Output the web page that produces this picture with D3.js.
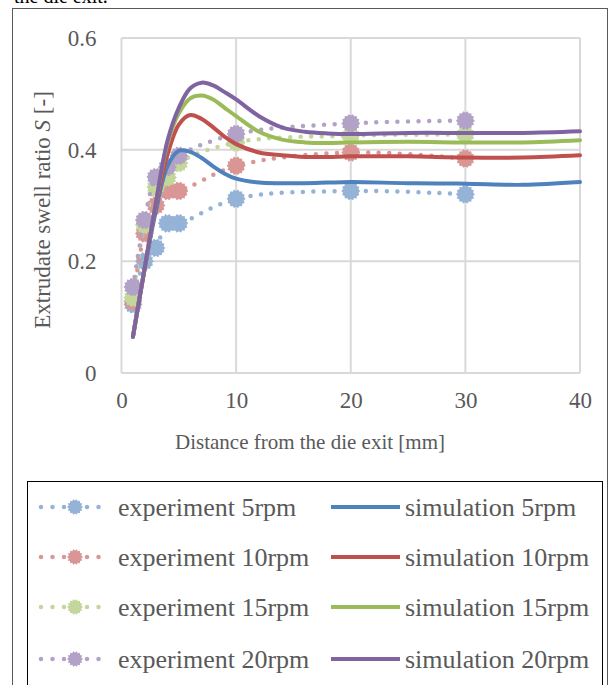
<!DOCTYPE html>
<html>
<head>
<meta charset="utf-8">
<script src="https://cdn.jsdelivr.net/npm/d3@7"></script>
<style>
  body { margin: 0; background: #fff; }
  svg text { font-family: "Liberation Serif", "DejaVu Serif", serif; fill: #595959; }
</style>
</head>
<body>
<div id="chart"></div>
<script>
// experiment x positions (mm)
var expX = [1, 2, 3, 4, 5, 10, 20, 30];
var exp5 = [0.123, 0.200, 0.224, 0.268, 0.268, 0.312, 0.326, 0.320];
var exp10 = [0.128, 0.250, 0.300, 0.326, 0.326, 0.371, 0.395, 0.384];
var exp15 = [0.135, 0.265, 0.333, 0.350, 0.376, 0.413, 0.425, 0.427];
var exp20 = [0.154, 0.274, 0.351, 0.369, 0.389, 0.428, 0.447, 0.452];

// simulation x positions (mm)
var simX = [1, 2, 3, 4, 5, 6, 7, 8, 9, 10, 12, 14, 16, 18, 20, 25, 30, 35, 40];
var sim5 = [0.065, 0.185, 0.29, 0.37, 0.398, 0.396, 0.385, 0.37, 0.357, 0.348, 0.341, 0.340, 0.340, 0.341, 0.342, 0.340, 0.339, 0.337, 0.342];
var sim10 = [0.065, 0.185, 0.30, 0.39, 0.445, 0.462, 0.455, 0.44, 0.423, 0.41, 0.395, 0.390, 0.387, 0.387, 0.388, 0.388, 0.386, 0.386, 0.390];
var sim15 = [0.065, 0.185, 0.305, 0.41, 0.465, 0.492, 0.497, 0.49, 0.475, 0.46, 0.432, 0.418, 0.413, 0.412, 0.413, 0.414, 0.413, 0.413, 0.417];
var sim20 = [0.065, 0.185, 0.305, 0.415, 0.475, 0.51, 0.52, 0.515, 0.503, 0.49, 0.46, 0.44, 0.432, 0.429, 0.428, 0.430, 0.430, 0.430, 0.433];

var xTicks = [0, 10, 20, 30, 40];
var yTicks = [0, 0.2, 0.4, 0.6];

var expLabels = ["experiment 5rpm", "experiment 10rpm", "experiment 15rpm", "experiment 20rpm"];
var simLabels = ["simulation 5rpm", "simulation 10rpm", "simulation 15rpm", "simulation 20rpm"];
var expColors = ["#95b3d7", "#d99694", "#c3d69b", "#b3a2c7"];
var simColors = ["#4f81bd", "#c0504d", "#9bbb59", "#8064a2"];

var W = 614, H = 685;
var plot = { left: 121.5, right: 580, top: 38, bottom: 373 };

var svg = d3.select("#chart").append("svg")
    .attr("width", W)
    .attr("height", H);

svg.append("rect").attr("width", W).attr("height", H).attr("fill", "#fff");

// leftover caption text from the page above (cropped in the source too)
svg.append("text")
    .attr("x", 14).attr("y", 3)
    .style("font-size", "20px")
    .style("fill", "#000")
    .text("the die exit.");

// outer frame
svg.append("rect")
    .attr("x", 12.5).attr("y", 8.5)
    .attr("width", 595).attr("height", 700)
    .attr("fill", "none")
    .attr("stroke", "#595959");

var x = d3.scaleLinear().domain([0, 40]).range([plot.left, plot.right]);
var y = d3.scaleLinear().domain([0, 0.6]).range([plot.bottom, plot.top]);

// gridlines
svg.append("g").selectAll("line")
    .data(yTicks)
    .enter().append("line")
    .attr("x1", plot.left).attr("x2", plot.right)
    .attr("y1", d => y(d)).attr("y2", d => y(d))
    .attr("stroke", "#d9d9d9").attr("stroke-width", 2);

svg.append("g").selectAll("line")
    .data(xTicks)
    .enter().append("line")
    .attr("x1", d => x(d)).attr("x2", d => x(d))
    .attr("y1", plot.top).attr("y2", plot.bottom)
    .attr("stroke", "#d9d9d9").attr("stroke-width", 2);

// axes (labels only)
var xAxis = svg.append("g")
    .attr("transform", `translate(0,${plot.bottom + 5})`)
    .call(d3.axisBottom(x).tickValues(xTicks).tickSize(0).tickPadding(14).tickFormat(d3.format("d")));
xAxis.select(".domain").remove();
xAxis.selectAll("text").style("font-size", "23px").style("font-family", "Liberation Serif").attr("fill", "#595959");

var yAxis = svg.append("g")
    .attr("transform", `translate(${plot.left - 22},0)`)
    .call(d3.axisLeft(y).tickValues(yTicks).tickSize(0).tickFormat(d => d === 0 ? "0" : d3.format(".1f")(d)));
yAxis.select(".domain").remove();
yAxis.selectAll("text").style("font-size", "23px").style("font-family", "Liberation Serif").attr("fill", "#595959");

// axis titles
svg.append("text")
    .attr("x", 310).attr("y", 449)
    .attr("text-anchor", "middle")
    .style("font-size", "21px")
    .text("Distance from the die exit [mm]");

var yt = svg.append("text")
    .attr("transform", "translate(50,210) rotate(-90)")
    .attr("text-anchor", "middle")
    .style("font-size", "23px");
yt.append("tspan").text("Extrudate swell ratio ");
yt.append("tspan").style("font-style", "italic").text("S");
yt.append("tspan").text(" [-]");

// jagged marker like the reference
function gearPath(r) {
    var pts = [];
    var n = 28;
    for (var i = 0; i < n; i++) {
        var a = i / n * Math.PI * 2;
        var rr = i % 2 === 0 ? r : r - 1.6;
        pts.push([Math.cos(a) * rr, Math.sin(a) * rr]);
    }
    return "M" + pts.map(p => p.join(",")).join("L") + "Z";
}

var expSeries = [exp5, exp10, exp15, exp20];
var simSeries = [sim5, sim10, sim15, sim20];

var expLine = d3.line()
    .x(d => x(d[0])).y(d => y(d[1]))
    .curve(d3.curveCatmullRom.alpha(0.5));

var simLine = d3.line()
    .x(d => x(d[0])).y(d => y(d[1]))
    .curve(d3.curveCatmullRom.alpha(0.5));

// experiment series: dotted lines with markers
expSeries.forEach(function (vals, i) {
    var pts = expX.map((d, j) => [d, vals[j]]);
    var g = svg.append("g");
    g.append("path")
        .attr("d", expLine(pts))
        .attr("fill", "none")
        .attr("stroke", expColors[i])
        .attr("stroke-width", 4.5)
        .attr("stroke-linecap", "round")
        .attr("stroke-dasharray", "0 10.5");
    g.selectAll("path.m")
        .data(pts)
        .enter().append("path")
        .attr("class", "m")
        .attr("d", gearPath(9.5))
        .attr("transform", d => `translate(${x(d[0])},${y(d[1])})`)
        .attr("fill", expColors[i]);
});

// simulation series: smooth solid lines
simSeries.forEach(function (vals, i) {
    var pts = simX.map((d, j) => [d, vals[j]]);
    svg.append("path")
        .attr("d", simLine(pts))
        .attr("fill", "none")
        .attr("stroke", simColors[i])
        .attr("stroke-width", 4)
        .attr("stroke-linejoin", "round")
        .attr("stroke-linecap", "round");
});

// legend box
svg.append("rect")
    .attr("x", 27.5).attr("y", 481.5)
    .attr("width", 575).attr("height", 210)
    .attr("fill", "#fff")
    .attr("stroke", "#000");

var rowY = [507, 557, 607, 659];

expLabels.forEach(function (lab, i) {
    var g = svg.append("g").attr("transform", `translate(0,${rowY[i]})`);
    g.append("line")
        .attr("x1", 41).attr("x2", 110)
        .attr("stroke", expColors[i])
        .attr("stroke-width", 4.5)
        .attr("stroke-linecap", "round")
        .attr("stroke-dasharray", "0 11.5");
    g.append("path")
        .attr("d", gearPath(8))
        .attr("transform", "translate(75,0)")
        .attr("fill", expColors[i]);
    g.append("text")
        .attr("x", 118).attr("dy", "0.35em")
        .style("font-size", "26px")
        .text(lab);
});

simLabels.forEach(function (lab, i) {
    var g = svg.append("g").attr("transform", `translate(0,${rowY[i]})`);
    g.append("line")
        .attr("x1", 331).attr("x2", 400)
        .attr("stroke", simColors[i])
        .attr("stroke-width", 4);
    g.append("text")
        .attr("x", 405).attr("dy", "0.35em")
        .style("font-size", "26px")
        .text(lab);
});
</script>
</body>
</html>
